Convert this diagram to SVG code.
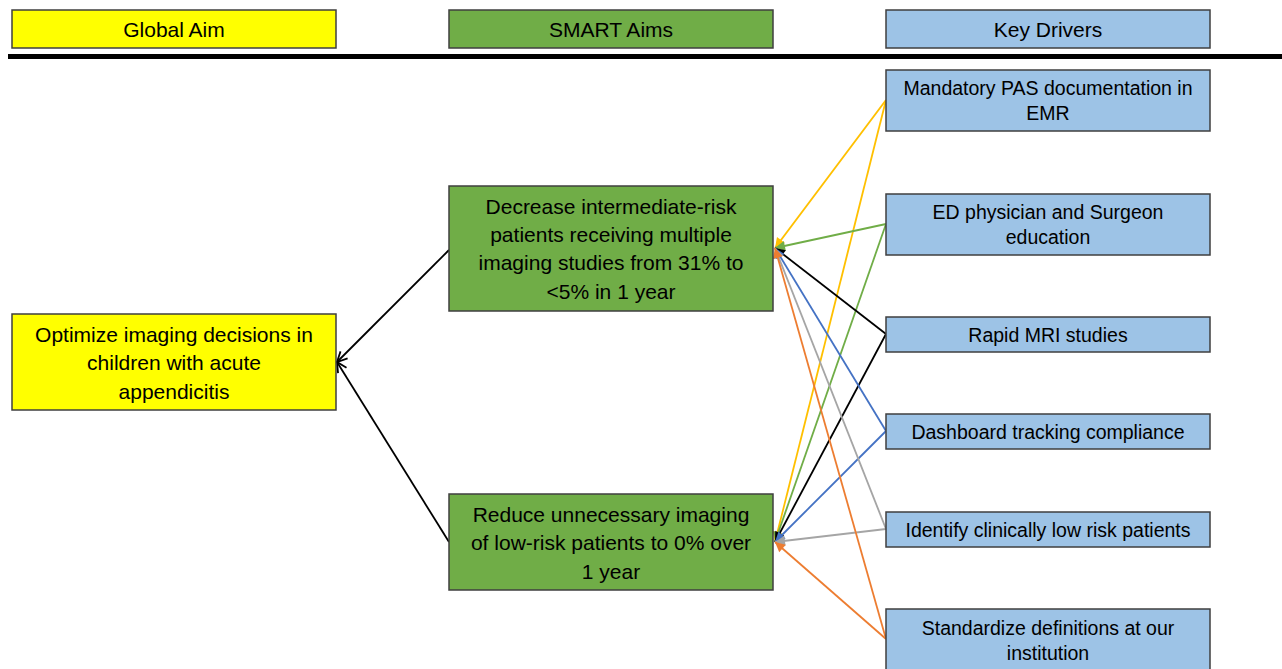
<svg xmlns="http://www.w3.org/2000/svg" width="1282" height="669" viewBox="0 0 1282 669">
<style>
.box{stroke:#3f3f3f;stroke-width:1.5}
.y{fill:#ffff00}.g{fill:#70ad47}.b{fill:#9dc3e6}
text{font-family:"Liberation Sans",Arial,sans-serif;font-size:21px;fill:#000;text-anchor:middle;dominant-baseline:central}
text.d{font-size:19.5px}
.c{fill:none;stroke-width:1.8}
</style>
<defs>
<marker id="mk" viewBox="0 0 12 12" refX="11" refY="6" markerWidth="12" markerHeight="12" markerUnits="userSpaceOnUse" orient="auto"><path d="M1,1 L11,6 L1,11" fill="none" stroke="#000" stroke-width="1.8"/></marker>
<marker id="my" viewBox="0 0 12 12" refX="11" refY="6" markerWidth="12" markerHeight="12" markerUnits="userSpaceOnUse" orient="auto"><path d="M1,1 L11,6 L1,11 Z" fill="#ffc000"/></marker>
<marker id="mg" viewBox="0 0 12 12" refX="11" refY="6" markerWidth="12" markerHeight="12" markerUnits="userSpaceOnUse" orient="auto"><path d="M1,1 L11,6 L1,11 Z" fill="#70ad47"/></marker>
<marker id="mb" viewBox="0 0 12 12" refX="11" refY="6" markerWidth="12" markerHeight="12" markerUnits="userSpaceOnUse" orient="auto"><path d="M1,1 L11,6 L1,11 Z" fill="#4472c4"/></marker>
<marker id="ma" viewBox="0 0 12 12" refX="11" refY="6" markerWidth="12" markerHeight="12" markerUnits="userSpaceOnUse" orient="auto"><path d="M1,1 L11,6 L1,11 Z" fill="#a5a5a5"/></marker>
<marker id="mo" viewBox="0 0 12 12" refX="11" refY="6" markerWidth="12" markerHeight="12" markerUnits="userSpaceOnUse" orient="auto"><path d="M1,1 L11,6 L1,11 Z" fill="#ed7d31"/></marker>
<marker id="mkf" viewBox="0 0 12 12" refX="11" refY="6" markerWidth="12" markerHeight="12" markerUnits="userSpaceOnUse" orient="auto"><path d="M1,1 L11,6 L1,11 Z" fill="#000"/></marker>
</defs>
<rect width="1282" height="669" fill="#fff"/>
<g id="headers">
<g id="h-global"><rect class="box y" x="12" y="10" width="324" height="38"/><text x="174" y="29">Global Aim</text></g>
<g id="h-smart"><rect class="box g" x="449" y="10" width="324" height="38"/><text x="611" y="29">SMART Aims</text></g>
<g id="h-drivers"><rect class="box b" x="886" y="10" width="324" height="38"/><text x="1048" y="29">Key Drivers</text></g>
<rect x="8" y="54" width="1274" height="5" fill="#000"/>
</g>
<g id="connectors">
<line class="c" stroke="#000" x1="449" y1="250" x2="337" y2="362" marker-end="url(#mk)"/>
<line class="c" stroke="#000" x1="449" y1="542" x2="337" y2="362" marker-end="url(#mk)"/>
<line class="c" stroke="#ffc000" x1="886" y1="100" x2="775" y2="248" marker-end="url(#my)"/>
<line class="c" stroke="#ffc000" x1="886" y1="100" x2="775" y2="542" marker-end="url(#my)"/>
<line class="c" stroke="#70ad47" x1="886" y1="224" x2="775" y2="248" marker-end="url(#mg)"/>
<line class="c" stroke="#70ad47" x1="886" y1="224" x2="775" y2="542" marker-end="url(#mg)"/>
<line class="c" stroke="#000" x1="886" y1="334" x2="775" y2="248" marker-end="url(#mkf)"/>
<line class="c" stroke="#000" x1="886" y1="334" x2="775" y2="542" marker-end="url(#mkf)"/>
<line class="c" stroke="#4472c4" x1="886" y1="431" x2="775" y2="248" marker-end="url(#mb)"/>
<line class="c" stroke="#4472c4" x1="886" y1="431" x2="775" y2="542" marker-end="url(#mb)"/>
<line class="c" stroke="#a5a5a5" x1="886" y1="529" x2="775" y2="248" marker-end="url(#ma)"/>
<line class="c" stroke="#a5a5a5" x1="886" y1="529" x2="775" y2="542" marker-end="url(#ma)"/>
<line class="c" stroke="#ed7d31" x1="886" y1="639" x2="775" y2="248" marker-end="url(#mo)"/>
<line class="c" stroke="#ed7d31" x1="886" y1="639" x2="775" y2="542" marker-end="url(#mo)"/>
</g>
<g id="global-aim"><rect class="box y" x="12" y="314" width="324" height="96"/><text x="174" y="334">Optimize imaging decisions in</text><text x="174" y="362">children with acute</text><text x="174" y="391">appendicitis</text></g>
<g id="smart-1"><rect class="box g" x="449" y="186" width="324" height="125"/><text x="611" y="206">Decrease intermediate-risk</text><text x="611" y="234">patients receiving multiple</text><text x="611" y="262">imaging studies from 31% to</text><text x="611" y="291">&lt;5% in 1 year</text></g>
<g id="smart-2"><rect class="box g" x="449" y="494" width="324" height="96"/><text x="611" y="514">Reduce unnecessary imaging</text><text x="611" y="542">of low-risk patients to 0% over</text><text x="611" y="571">1 year</text></g>
<g id="driver-1"><rect class="box b" x="886" y="70" width="324" height="61"/><text class="d" x="1048" y="88">Mandatory PAS documentation in</text><text class="d" x="1048" y="113">EMR</text></g>
<g id="driver-2"><rect class="box b" x="886" y="194" width="324" height="61"/><text class="d" x="1048" y="212">ED physician and Surgeon</text><text class="d" x="1048" y="237">education</text></g>
<g id="driver-3"><rect class="box b" x="886" y="317" width="324" height="35"/><text class="d" x="1048" y="335">Rapid MRI studies</text></g>
<g id="driver-4"><rect class="box b" x="886" y="414" width="324" height="35"/><text class="d" x="1048" y="432">Dashboard tracking compliance</text></g>
<g id="driver-5"><rect class="box b" x="886" y="512" width="324" height="35"/><text class="d" x="1048" y="530">Identify clinically low risk patients</text></g>
<g id="driver-6"><rect class="box b" x="886" y="609" width="324" height="64"/><text class="d" x="1048" y="628">Standardize definitions at our</text><text class="d" x="1048" y="653">institution</text></g>
</svg>
